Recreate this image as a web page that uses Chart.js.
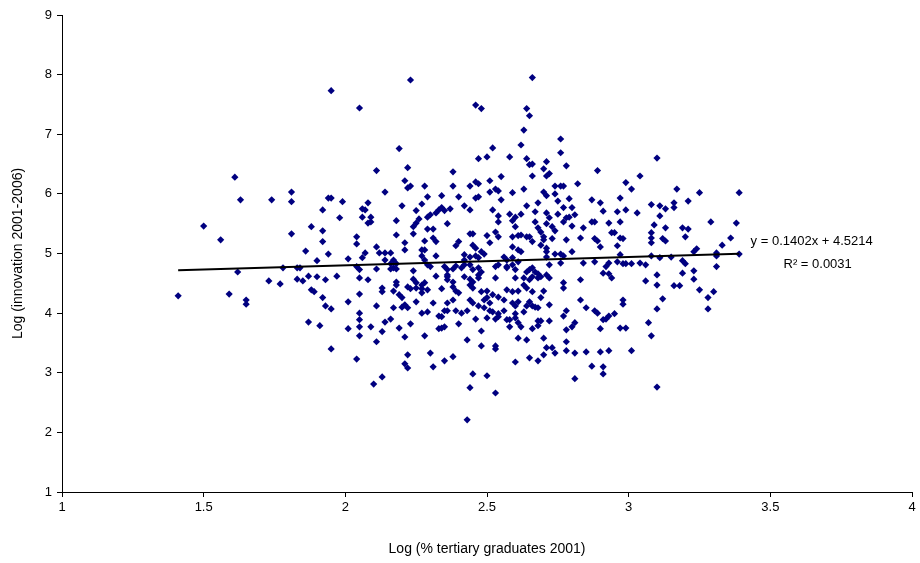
<!DOCTYPE html>
<html>
<head>
<meta charset="utf-8">
<script src="https://cdn.jsdelivr.net/npm/chart.js@4.4.0/dist/chart.umd.min.js"></script>
<style>
  html, body { margin: 0; padding: 0; background: #fff; }
  #wrap { width: 920px; height: 563px; }
</style>
</head>
<body>
<div id="wrap"><canvas id="myChart" width="920" height="563"></canvas></div>
<script>
'use strict';

// [log % tertiary graduates 2001, log innovation 2001-2006]
const points = [
  [1.41,4.29],[1.50,5.46],[1.56,5.23],[1.59,4.32],[1.61,6.28],[1.62,4.69],[1.63,5.90],[1.65,4.22],[1.65,4.15],
  [1.74,5.90],[1.73,4.54],[1.77,4.49],[1.78,4.76],[1.81,6.03],[1.81,5.87],[1.81,5.33],[1.83,4.76],[1.84,4.76],
  [1.83,4.57],[1.85,4.54],[1.86,5.04],[1.87,4.62],[1.88,5.45],[1.88,4.39],[1.89,4.36],[1.90,4.88],[1.87,3.85],
  [1.95,7.73],[2.23,7.91],[2.05,7.44],[2.19,6.76],[2.11,6.39],[2.22,6.44],[2.21,6.22],[2.22,6.10],[2.23,6.13],
  [2.28,6.13],[2.38,6.37],[2.38,6.13],
  [2.66,7.95],[2.46,7.49],[2.48,7.43],[2.64,7.43],[2.65,7.31],[2.63,7.07],[2.76,6.92],[2.76,6.69],[2.52,6.77],
  [2.62,6.82],[2.47,6.59],[2.50,6.62],[2.58,6.62],[2.64,6.59],[2.65,6.49],[2.66,6.50],[2.71,6.54],[2.70,6.42],
  [2.78,6.47],[2.66,6.30],[2.71,6.30],[2.72,6.34],[2.89,6.39],[2.44,6.13],[2.46,6.20],[2.47,6.17],[2.51,6.22],
  [2.55,6.29],[2.53,6.08],[2.63,6.08],[2.74,6.13],[2.76,6.13],[2.77,6.13],[2.82,6.17],
  [3.10,6.60],[2.99,6.19],[3.04,6.30],[3.01,6.08],[3.17,6.08],
  [3.25,6.02],[3.39,6.02],[2.87,5.90],[2.90,5.85],[2.97,5.93],[2.91,5.71],[2.96,5.70],[2.99,5.73],[3.03,5.68],
  [3.08,5.82],[3.11,5.80],[3.13,5.75],[3.16,5.85],[3.16,5.77],[3.21,5.88],[3.11,5.63],[2.87,5.53],[2.88,5.53],
  [2.93,5.51],[2.97,5.53],[3.29,5.53],[3.38,5.51],[3.09,5.48],[3.13,5.43],[3.19,5.43],[3.21,5.41],[2.94,5.35],
  [2.95,5.35],[3.08,5.35],[3.08,5.26],[3.20,5.28],[2.88,5.25],[2.89,5.21],[2.97,5.26],[2.98,5.25],[3.12,5.25],
  [3.13,5.21],[3.08,5.18],[3.36,5.26],[2.90,5.11],[2.96,5.13],[3.33,5.14],[3.24,5.08],[3.23,5.03],[2.97,4.98],
  [3.08,4.96],[3.11,4.93],[3.15,4.94],[3.31,5.01],[3.31,4.96],[3.39,4.99],[2.88,4.86],[2.93,4.84],[2.92,4.78],
  [2.96,4.86],[2.98,4.83],[2.99,4.83],[3.01,4.83],[3.04,4.84],[3.06,4.81],[3.19,4.88],[3.20,4.83],[3.31,4.78],
  [2.91,4.67],[2.93,4.66],[2.94,4.59],[3.10,4.64],[3.19,4.67],[3.23,4.71],[3.23,4.57],[3.06,4.54],[3.10,4.47],
  [3.16,4.46],[3.18,4.46],[3.25,4.39],[3.30,4.36],[3.28,4.26],[3.12,4.24],[2.98,4.22],[2.98,4.15],[3.10,4.07],
  [3.28,4.07],
  [2.88,4.04],[2.89,4.00],[2.91,3.89],[2.92,3.90],[2.93,3.95],[2.95,3.99],[2.90,3.74],[2.97,3.75],[2.99,3.75],
  [3.07,3.84],[3.08,3.62],[2.90,3.35],[2.93,3.37],[3.01,3.37],[2.87,3.11],[2.91,3.10],[2.91,2.98],[3.10,2.76],
  [2.36,4.04],[2.39,4.04],[2.41,4.00],[2.43,4.04],[2.47,4.12],[2.49,4.09],[2.51,4.04],[2.52,4.02],[2.53,3.90],
  [2.54,3.94],[2.54,3.99],[2.56,4.04],[2.57,3.89],[2.58,3.89],[2.58,3.77],[2.60,3.99],[2.60,3.92],[2.61,3.84],
  [2.62,3.77],[2.63,4.02],[2.64,4.12],[2.67,4.10],[2.68,4.09],[2.68,3.87],[2.69,3.87],[2.68,3.79],[2.66,3.74],
  [2.72,3.87],[2.77,3.95],[2.78,4.04],[2.78,3.72],[2.80,3.77],[2.81,3.84],[2.46,3.90],[2.50,3.92],[2.40,3.82],
  [2.48,3.70],[2.43,3.55],[2.61,3.58],[2.64,3.55],[2.70,3.58],[2.78,3.52],[2.48,3.45],[2.53,3.45],[2.53,3.40],
  [2.71,3.42],[2.73,3.42],[2.74,3.33],[2.70,3.30],[2.78,3.37],[2.81,3.33],[2.85,3.35],[2.38,3.27],[2.35,3.20],
  [2.65,3.25],[2.60,3.18],[2.68,3.20],[2.45,2.98],[2.50,2.95],[2.81,2.90],[2.44,2.75],[2.53,2.66],[2.43,2.21],
  [1.91,3.79],[1.93,4.12],[1.95,4.07],[1.95,3.40],[2.01,3.74],[2.05,4.00],[2.05,3.89],[2.05,3.77],[2.05,3.62],
  [2.09,3.77],[2.04,3.23],[2.11,4.12],[2.14,3.85],[2.13,3.69],[2.11,3.52],[2.16,3.90],[2.17,4.09],[2.19,3.75],
  [2.21,3.60],[2.20,4.10],[2.22,4.09],[2.23,3.82],[2.27,4.00],[2.29,4.02],[2.28,3.62],[2.22,3.30],[2.21,3.15],
  [2.22,3.08],[2.30,3.33],[2.31,3.10],[2.33,3.95],[2.34,3.94],[2.35,4.04],[2.34,3.75],[2.33,3.74],[2.35,3.77],
  [2.13,2.93],[2.10,2.81],
  [1.94,5.93],[1.95,5.93],[1.99,5.87],[1.92,5.73],[1.98,5.60],[1.92,5.38],[2.14,6.03],[2.08,5.85],[2.06,5.75],
  [2.07,5.73],[2.06,5.61],[2.09,5.61],[2.09,5.53],[2.08,5.51],[2.20,5.80],[2.29,5.95],[2.34,5.97],[2.27,5.83],
  [2.25,5.72],[2.30,5.65],[2.29,5.61],[2.32,5.68],[2.33,5.73],[2.34,5.77],[2.35,5.72],[2.37,5.75],[2.18,5.55],
  [2.26,5.58],[2.25,5.51],[2.24,5.45],[2.24,5.33],[2.29,5.41],[2.31,5.41],[2.36,5.50],[2.04,5.28],[2.04,5.16],
  [2.18,5.31],[2.21,5.18],[2.21,5.06],[2.31,5.26],[2.32,5.20],[2.28,5.21],[2.39,5.13],[2.11,5.11],[2.07,5.01],
  [2.06,4.93],[2.01,4.91],[1.94,4.99],[1.92,5.20],[2.12,5.01],[2.14,5.01],[2.16,5.01],[2.14,4.89],[2.17,4.89],
  [2.18,4.83],[2.16,4.83],[2.27,5.06],[2.28,5.06],[2.27,4.96],[2.28,4.89],[2.32,4.96],[2.04,4.78],[2.05,4.73],
  [2.05,4.59],[2.11,4.74],[2.16,4.74],[2.17,4.76],[2.18,4.74],[2.24,4.71],[2.29,4.81],[2.30,4.78],[2.35,4.78],
  [2.36,4.73],[2.38,4.74],[1.90,4.61],[1.93,4.56],[1.97,4.62],[2.08,4.56],[2.18,4.52],[2.18,4.47],[2.24,4.57],
  [2.25,4.51],[2.32,4.62],[2.36,4.61],[2.36,4.56],[1.92,4.26],[2.01,4.19],[2.05,4.32],[2.13,4.42],[2.13,4.36],
  [2.17,4.37],[2.19,4.31],[2.20,4.26],[2.21,4.14],[2.22,4.44],[2.23,4.41],[2.25,4.42],[2.27,4.47],[2.28,4.51],
  [2.27,4.41],[2.27,4.34],[2.29,4.39],[2.25,4.19],[2.31,4.17],[2.34,4.41],[2.38,4.22],[2.36,4.17],[2.38,4.52],
  [2.51,6.03],[2.54,6.05],[2.55,5.90],[2.59,6.02],[2.70,6.03],[2.40,5.95],[2.46,5.93],[2.47,5.95],[2.42,5.80],
  [2.44,5.73],[2.52,5.73],[2.58,5.66],[2.60,5.61],[2.62,5.66],[2.64,5.80],[2.68,5.85],[2.71,5.97],[2.74,6.00],
  [2.75,5.88],[2.79,5.92],[2.67,5.70],[2.71,5.68],[2.72,5.60],[2.75,5.66],[2.77,5.77],[2.80,5.77],[2.54,5.63],
  [2.54,5.53],[2.59,5.55],[2.60,5.45],[2.67,5.53],[2.68,5.43],[2.71,5.50],[2.73,5.45],[2.74,5.38],[2.77,5.53],
  [2.78,5.60],[2.79,5.61],[2.81,5.65],[2.80,5.46],[2.84,5.43],[2.44,5.33],[2.45,5.33],[2.50,5.30],[2.53,5.36],
  [2.54,5.28],[2.59,5.28],[2.61,5.30],[2.62,5.31],[2.64,5.28],[2.65,5.28],[2.66,5.20],[2.69,5.36],[2.70,5.28],
  [2.70,5.23],[2.73,5.25],[2.78,5.23],[2.83,5.26],[2.40,5.20],[2.45,5.14],[2.46,5.09],[2.48,5.03],[2.49,4.99],
  [2.51,5.18],[2.59,5.11],[2.61,5.06],[2.62,5.03],[2.56,4.94],[2.57,4.89],[2.69,5.14],[2.71,5.09],[2.71,5.03],
  [2.71,4.94],[2.74,4.99],[2.76,4.99],[2.77,4.96],[2.80,5.03],[2.42,4.98],[2.44,4.94],[2.42,4.89],[2.46,4.96],
  [2.47,4.93],[2.59,4.93],[2.61,4.86],[2.72,4.81],[2.76,4.84],[2.84,4.84],[2.39,4.79],[2.41,4.76],[2.42,4.81],
  [2.44,4.81],[2.45,4.73],[2.47,4.76],[2.48,4.69],[2.53,4.78],[2.54,4.81],[2.57,4.76],[2.57,4.78],[2.59,4.81],
  [2.60,4.73],[2.64,4.69],[2.65,4.73],[2.66,4.76],[2.67,4.69],[2.68,4.66],[2.63,4.59],[2.65,4.56],[2.66,4.61],
  [2.68,4.59],[2.69,4.61],[2.36,4.64],[2.42,4.61],[2.44,4.57],[2.45,4.52],[2.47,4.59],[2.47,4.64],[2.53,4.59],
  [2.60,4.59],[2.71,4.64],[2.72,4.59],[2.77,4.51],[2.83,4.56],[2.38,4.44],[2.39,4.37],[2.40,4.34],[2.44,4.47],
  [2.45,4.42],[2.48,4.36],[2.50,4.37],[2.52,4.31],[2.57,4.39],[2.59,4.36],[2.61,4.37],[2.63,4.47],[2.64,4.42],
  [2.66,4.36],[2.70,4.37],[2.77,4.42],[2.44,4.22],[2.45,4.17],[2.49,4.22],[2.50,4.26],[2.51,4.17],[2.54,4.27],
  [2.56,4.22],[2.59,4.17],[2.61,4.19],[2.65,4.19],[2.66,4.12],[2.69,4.26],[2.72,4.14],[2.83,4.22],[2.85,4.09],
  [2.60,4.12]
];

// linear trendline as printed on the chart
const trendSlope = 0.1402;
const trendIntercept = 4.5214;
const trendXRange = [1.41, 3.39];
const trendLabel = ['y = 0.1402x + 4.5214', 'R\u00B2 = 0.0031'];

const xTitle = 'Log (% tertiary graduates 2001)';
const yTitle = 'Log (innovation 2001-2006)';

const FONT = 'Liberation Sans, Arial, sans-serif';

const trendLabelPlugin = {
  id: 'trendLabel',
  afterDatasetsDraw(chart) {
    const ctx = chart.ctx;
    const x = chart.scales.x.getPixelForValue(3.66);
    const y = chart.scales.y.getPixelForValue(5.2);
    ctx.save();
    ctx.fillStyle = '#000';
    ctx.font = '13px ' + FONT;
    ctx.textAlign = 'center';
    ctx.textBaseline = 'middle';
    ctx.fillText(trendLabel[0], x - 4, y);
    ctx.fillText(trendLabel[1], x + 2, y + 23);
    ctx.restore();
  }
};

const scatterData = points.map(p => ({ x: p[0], y: p[1] }));
const trendData = trendXRange.map(v => ({ x: v, y: trendSlope * v + trendIntercept }));

function generateChart() {
  const ctx = document.getElementById('myChart');
  new Chart(ctx, {
    type: 'scatter',
    data: {
      datasets: [
        {
          type: 'line',
          data: trendData,
          borderColor: '#000',
          borderWidth: 2,
          pointRadius: 0,
          fill: false,
          order: 0
        },
        {
          data: scatterData,
          backgroundColor: '#000080',
          borderColor: '#000080',
          borderWidth: 0,
          pointStyle: 'rectRot',
          pointRadius: 3.6,
          order: 1
        }
      ]
    },
    options: {
      responsive: false,
      animation: false,
      layout: { padding: { top: 15, right: 8, left: 0, bottom: 0 } },
      plugins: {
        legend: { display: false },
        tooltip: { enabled: false }
      },
      scales: {
        x: {
          type: 'linear',
          min: 1,
          max: 4,
          ticks: {
            stepSize: 0.5, color: '#000', padding: 3, font: { family: FONT, size: 13 },
            callback: v => String(v)
          },
          grid: { drawOnChartArea: false, drawTicks: true, tickLength: 5, color: '#000' },
          border: { color: '#000', width: 1 },
          title: { display: true, text: xTitle, color: '#000', font: { family: FONT, size: 14 }, padding: { top: 4, bottom: 5 } },
          afterFit(s) { s.height = 71; }
        },
        y: {
          min: 1,
          max: 9,
          ticks: { stepSize: 1, color: '#000', padding: 5, font: { family: FONT, size: 13 } },
          grid: { drawOnChartArea: false, drawTicks: true, tickLength: 5, color: '#000' },
          border: { color: '#000', width: 1 },
          title: { display: true, text: yTitle, color: '#000', font: { family: FONT, size: 14 }, padding: { top: 10, bottom: 4 } },
          afterFit(s) { s.width = 62; }
        }
      }
    },
    plugins: [trendLabelPlugin]
  });
}

generateChart();
</script>
</body>
</html>
